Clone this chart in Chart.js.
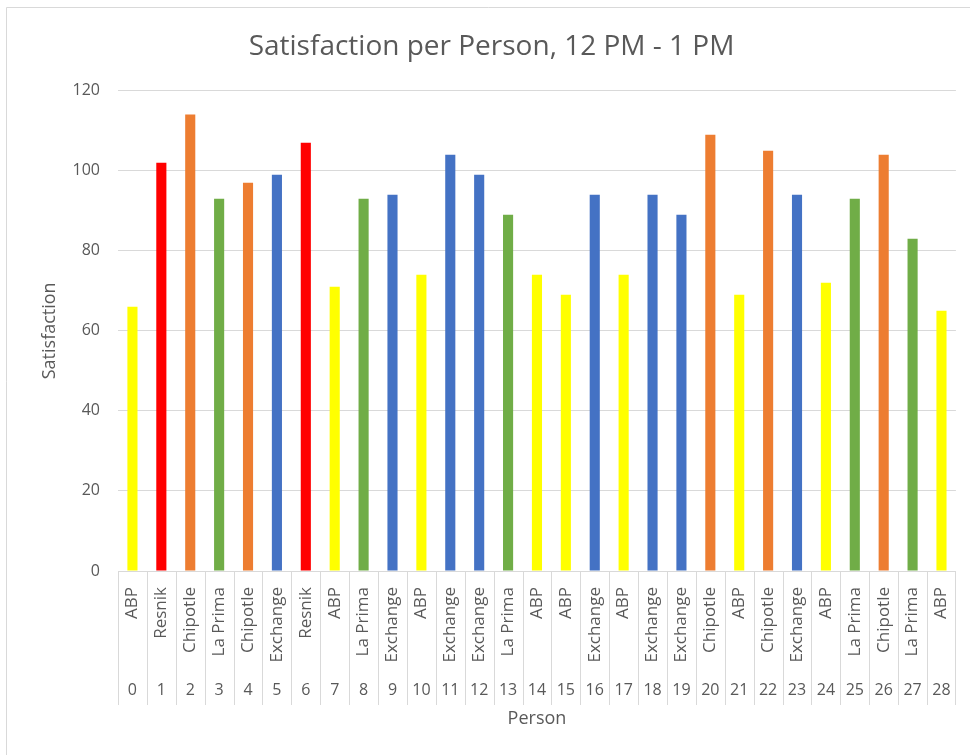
<!DOCTYPE html>
<html>
<head>
<meta charset="utf-8">
<script src="https://cdn.jsdelivr.net/npm/chart.js@4.4.1/dist/chart.umd.min.js"></script>
<style>
  body { margin: 0; background: #fff; }
  #wrap { width: 970px; height: 755px; }
</style>
</head>
<body>
<div id="wrap"><canvas id="satChart" width="970" height="755"></canvas></div>
<script>
// person ids along the bottom
var persons = ["0","1","2","3","4","5","6","7","8","9","10","11","12","13","14",
  "15","16","17","18","19","20","21","22","23","24","25","26","27","28"];
// where each person ate
var places = ["ABP","Resnik","Chipotle","La Prima","Chipotle","Exchange","Resnik","ABP",
  "La Prima","Exchange","ABP","Exchange","Exchange","La Prima","ABP","ABP","Exchange",
  "ABP","Exchange","Exchange","Chipotle","ABP","Chipotle","Exchange","ABP","La Prima",
  "Chipotle","La Prima","ABP"];
// satisfaction score
var satisfaction = [66,102,114,93,97,99,107,71,93,94,74,104,99,89,74,69,94,74,94,89,
  109,69,105,94,72,93,104,83,65];

var placeColors = {
  "ABP": "#FFFF00",
  "Resnik": "#FF0000",
  "Chipotle": "#ED7D31",
  "La Prima": "#70AD47",
  "Exchange": "#4472C4"
};

var grey = "#595959";
var lineGrey = "#d9d9d9";
var fam = "'Open Sans', sans-serif";

// frame + category separators under the axis
var frame = {
  id: "frame",
  beforeDraw: function(chart) {
    var c = chart.ctx;
    c.save();
    c.fillStyle = "#fff";
    c.fillRect(0, 0, chart.width, chart.height);
    c.strokeStyle = lineGrey;
    c.lineWidth = 1;
    c.beginPath();
    c.moveTo(6.5, chart.height);
    c.lineTo(6.5, 7.5);
    c.lineTo(chart.width, 7.5);
    c.stroke();
    c.restore();
  },
  afterDraw: function(chart) {
    var c = chart.ctx;
    var xs = chart.scales.x;
    var area = chart.chartArea;
    var step = (area.right - area.left) / persons.length;
    c.save();
    c.strokeStyle = lineGrey;
    c.lineWidth = 1;
    c.beginPath();
    for (var i = 0; i <= persons.length; i++) {
      var px = Math.round(xs.getPixelForValue(i) - step / 2) + 0.5;
      if (i == persons.length) px = Math.round(xs.getPixelForValue(i - 1) + step / 2) - 0.5;
      c.moveTo(px, area.bottom);
      c.lineTo(px, 705);
    }
    c.stroke();
    c.restore();
  }
};

new Chart("satChart", {
  type: "bar",
  data: {
    labels: places,
    datasets: [{
      data: satisfaction,
      backgroundColor: places.map(function(p) { return placeColors[p]; }),
      categoryPercentage: 1,
      barPercentage: 0.35
    }]
  },
  plugins: [frame],
  options: {
    responsive: false,
    animation: false,
    layout: { padding: { left: 20, right: 7, top: 7, bottom: 24 } },
    plugins: {
      legend: { display: false },
      tooltip: { enabled: false },
      title: {
        display: true,
        text: "Satisfaction per Person, 12 PM - 1 PM",
        color: grey,
        font: { family: fam, size: 28, weight: "normal" },
        padding: { top: 23, bottom: 27 }
      }
    },
    scales: {
      y: {
        min: 0,
        max: 120,
        ticks: { stepSize: 20, color: grey, padding: 18, font: { family: fam, size: 16 } },
        grid: { color: lineGrey, drawTicks: false },
        border: { display: false },
        title: {
          display: true,
          text: "Satisfaction",
          color: grey,
          font: { family: fam, size: 18 },
          padding: { top: 19, bottom: 0 }
        },
        afterFit: function(s) { s.width = 98; }
      },
      x: {
        position: "bottom",
        weight: 0,
        ticks: {
          color: grey,
          minRotation: 90,
          maxRotation: 90,
          autoSkip: false,
          padding: 8,
          font: { family: fam, size: 17 }
        },
        grid: { display: false },
        border: { color: lineGrey },
        afterFit: function(s) { s.height = 100; }
      },
      person: {
        type: "category",
        labels: persons,
        position: "bottom",
        weight: 1,
        offset: true,
        ticks: { color: grey, autoSkip: false, maxRotation: 0, padding: 10, font: { family: fam, size: 16 } },
        grid: { display: false, drawTicks: false },
        border: { display: false },
        title: {
          display: true,
          text: "Person",
          color: grey,
          font: { family: fam, size: 18 },
          padding: { top: 0, bottom: 1 }
        },
        afterFit: function(s) { s.height = 60; }
      }
    }
  }
});
</script>
</body>
</html>
